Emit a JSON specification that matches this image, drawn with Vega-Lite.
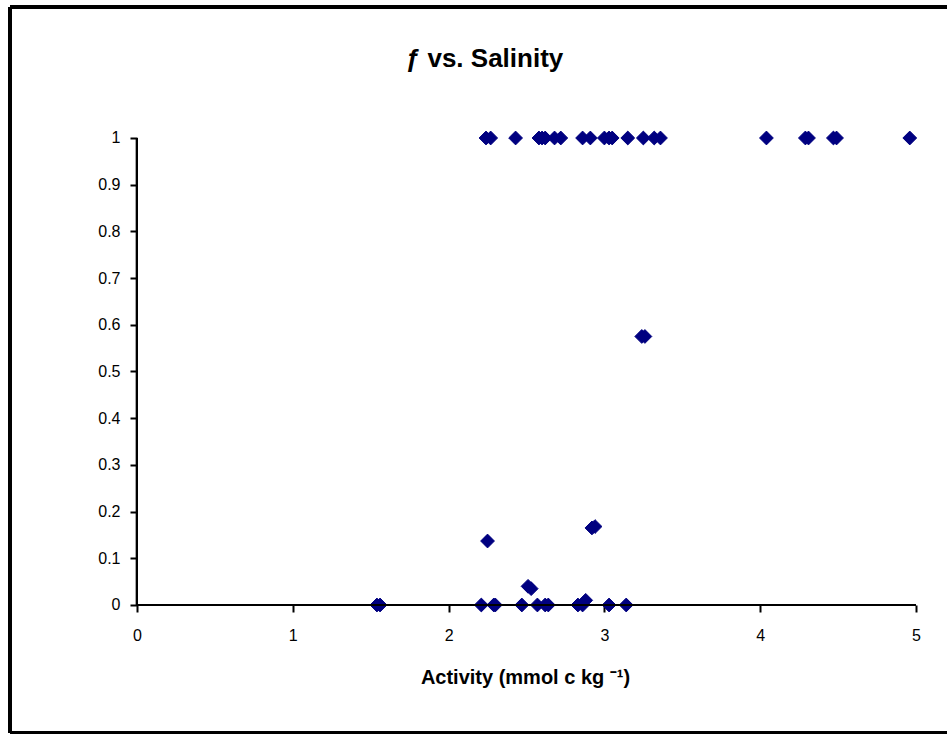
{
  "$schema": "https://vega.github.io/schema/vega-lite/v6.json",
  "width": 937,
  "height": 726,
  "autosize": {"type": "none"},
  "padding": {"left": 10, "top": 7, "right": 0, "bottom": 1},
  "background": "white",
  "title": {
    "text": "ƒ vs. Salinity",
    "font": "Arial, Liberation Sans",
    "fontSize": 26,
    "fontWeight": "bold",
    "color": "black",
    "anchor": "middle",
    "baseline": "alphabetic",
    "offset": -87,
    "dx": 6
  },
  "config": {
    "view": {"stroke": null},
    "axis": {
      "domain": false,
      "grid": false,
      "tickColor": "black",
      "tickWidth": 2,
      "tickSize": 7,
      "labelFont": "Arial, Liberation Sans",
      "labelFontSize": 16,
      "labelColor": "black",
      "titleFont": "Arial, Liberation Sans",
      "titleFontSize": 20,
      "titleFontWeight": "bold",
      "titleColor": "black"
    }
  },
  "data": {
    "values": [
      {"activity": 2.24, "f": 1}, {"activity": 2.27, "f": 1}, {"activity": 2.43, "f": 1},
      {"activity": 2.58, "f": 1}, {"activity": 2.60, "f": 1}, {"activity": 2.62, "f": 1},
      {"activity": 2.68, "f": 1}, {"activity": 2.72, "f": 1}, {"activity": 2.86, "f": 1},
      {"activity": 2.91, "f": 1}, {"activity": 3.00, "f": 1}, {"activity": 3.03, "f": 1},
      {"activity": 3.05, "f": 1}, {"activity": 3.15, "f": 1}, {"activity": 3.25, "f": 1},
      {"activity": 3.32, "f": 1}, {"activity": 3.36, "f": 1}, {"activity": 4.04, "f": 1},
      {"activity": 4.29, "f": 1}, {"activity": 4.31, "f": 1}, {"activity": 4.47, "f": 1},
      {"activity": 4.49, "f": 1}, {"activity": 4.96, "f": 1},
      {"activity": 3.24, "f": 0.575}, {"activity": 3.26, "f": 0.575},
      {"activity": 2.25, "f": 0.137},
      {"activity": 2.92, "f": 0.165}, {"activity": 2.94, "f": 0.168},
      {"activity": 2.51, "f": 0.04}, {"activity": 2.53, "f": 0.035},
      {"activity": 1.54, "f": 0}, {"activity": 1.56, "f": 0},
      {"activity": 2.21, "f": 0}, {"activity": 2.29, "f": 0}, {"activity": 2.30, "f": 0},
      {"activity": 2.47, "f": 0}, {"activity": 2.57, "f": 0}, {"activity": 2.62, "f": 0},
      {"activity": 2.64, "f": 0}, {"activity": 2.83, "f": 0}, {"activity": 2.86, "f": 0},
      {"activity": 2.88, "f": 0.01}, {"activity": 3.03, "f": 0}, {"activity": 3.14, "f": 0}
    ]
  },
  "layer": [
    {
      "mark": {"type": "point", "shape": "diamond", "filled": true, "size": 190, "color": "#000080", "opacity": 1, "stroke": "#000080", "strokeWidth": 1},
      "encoding": {
        "x": {
          "field": "activity", "type": "quantitative",
          "scale": {"domain": [-0.8151, 5.199], "nice": false, "zero": false},
          "axis": {"values": [0, 1, 2, 3, 4, 5], "format": "d", "offset": -128, "labelPadding": 15, "title": "Activity (mmol  c kg ⁻¹)", "titleX": 515, "titlePadding": 24}
        },
        "y": {
          "field": "f", "type": "quantitative",
          "scale": {"domain": [-0.2741, 1.2805], "nice": false, "zero": false},
          "axis": {"values": [0, 0.1, 0.2, 0.3, 0.4, 0.5, 0.6, 0.7, 0.8, 0.9, 1], "format": ".1~f", "offset": -127, "labelPadding": 10, "title": null}
        }
      }
    },
    {
      "mark": {"type": "rule", "color": "black", "strokeWidth": 2},
      "encoding": {
        "x": {"datum": 0, "type": "quantitative"},
        "x2": {"datum": 5},
        "y": {"datum": 0, "type": "quantitative"}
      }
    },
    {
      "mark": {"type": "rule", "color": "black", "strokeWidth": 2},
      "encoding": {
        "x": {"datum": 0, "type": "quantitative"},
        "y": {"datum": 0, "type": "quantitative"},
        "y2": {"datum": 1}
      }
    },
    {
      "mark": {"type": "rule", "color": "black", "strokeWidth": 3},
      "encoding": {
        "x": {"datum": -0.8151, "type": "quantitative"},
        "y": {"datum": -0.2741, "type": "quantitative"},
        "y2": {"datum": 1.2805}
      }
    },
    {
      "mark": {"type": "rule", "color": "black", "strokeWidth": 3},
      "encoding": {
        "x": {"datum": -0.8151, "type": "quantitative"},
        "x2": {"datum": 5.199},
        "y": {"datum": 1.2805, "type": "quantitative"}
      }
    },
    {
      "mark": {"type": "rule", "color": "black", "strokeWidth": 3},
      "encoding": {
        "x": {"datum": -0.8151, "type": "quantitative"},
        "x2": {"datum": 5.199},
        "y": {"datum": -0.2741, "type": "quantitative"}
      }
    }
  ]
}
